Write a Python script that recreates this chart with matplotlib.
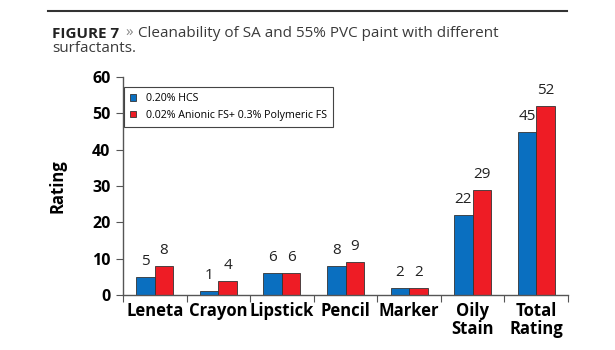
import numpy as np
import matplotlib
matplotlib.use("Agg")
import matplotlib.pyplot as plt
from matplotlib.patches import Patch

plt.rcParams['font.family'] = ['Open Sans', 'DejaVu Sans']

categories = ["Leneta", "Crayon", "Lipstick", "Pencil", "Marker", "Oily\nStain", "Total\nRating"]
hcs = [5, 1, 6, 8, 2, 22, 45]
anionic = [8, 4, 6, 9, 2, 29, 52]
series_names = ["0.20% HCS", "0.02% Anionic FS+ 0.3% Polymeric FS"]
blue = "#0a6fc0"
red = "#ee1c25"

fig = plt.figure(figsize=(6.15, 3.5), dpi=100)
ax = fig.add_axes([0.2, 0.157, 0.7236, 0.623])

x = np.arange(len(categories))
w = 0.29
b1 = ax.bar(x - w / 2, hcs, w, color=blue, edgecolor="#333333", linewidth=0.6)
b2 = ax.bar(x + w / 2, anionic, w, color=red, edgecolor="#333333", linewidth=0.6)

for bars, vals in ((b1, hcs), (b2, anionic)):
    for rect, v in zip(bars, vals):
        ax.text(rect.get_x() + rect.get_width() / 2, v + 2.2, str(v),
                ha="center", va="bottom", fontsize=11, color="#222222")

ax.set_xlim(-0.5, len(categories) - 0.5)
ax.set_ylim(0, 60)
ax.set_yticks(range(0, 61, 10))
ax.set_xticks(np.arange(-0.5, len(categories), 1))
ax.set_xticklabels([])
ax.set_xticks(x, minor=True)
ax.set_xticklabels(categories, minor=True, fontsize=12, fontweight="bold", linespacing=1.0)
ax.tick_params(axis="x", which="minor", length=0, pad=5)
ax.tick_params(axis="x", which="major", length=5, direction="out", color="#555555")
ax.tick_params(axis="y", length=5, direction="out", color="#555555", labelsize=11.5, pad=4)
for lab in ax.get_yticklabels():
    lab.set_fontweight("bold")
ax.set_ylabel("Rating", fontsize=12, fontweight="bold", labelpad=18)

for s in ("top", "right"):
    ax.spines[s].set_visible(False)
for s in ("left", "bottom"):
    ax.spines[s].set_color("#555555")
    ax.spines[s].set_linewidth(1.0)

handles = [Patch(facecolor=blue, edgecolor="#333333", linewidth=0.6),
           Patch(facecolor=red, edgecolor="#333333", linewidth=0.6)]
leg = ax.legend(handles, series_names, loc="upper left", bbox_to_anchor=(0.002, 0.954),
                borderaxespad=0, fontsize=7.7, handlelength=0.55, handleheight=0.55,
                handletextpad=0.9, borderpad=0.6, labelspacing=0.5, fancybox=False, framealpha=1)
leg.get_frame().set_edgecolor("#444444")
leg.get_frame().set_linewidth(0.8)

# top rule and caption
fig.add_artist(plt.Line2D([0.078, 0.922], [0.969, 0.969], color="#333333", linewidth=1.5))
ty = 0.904
t1 = fig.text(0.0846, ty, "FIGURE 7", fontsize=11, fontweight="bold", color="#222222", va="center")
fig.canvas.draw()
bb = t1.get_window_extent()
t2 = fig.text(bb.x1 / fig.bbox.width + 0.01, ty, "»", fontsize=11, color="#888888", va="center")
fig.canvas.draw()
bb2 = t2.get_window_extent()
fig.text(bb2.x1 / fig.bbox.width + 0.008, ty, "Cleanability of SA and 55% PVC paint with different",
         fontsize=11, color="#3a3a3a", va="center")
fig.text(0.0846, 0.86, "surfactants.", fontsize=11, color="#3a3a3a", va="center")

fig.savefig("out.png", dpi=100)
